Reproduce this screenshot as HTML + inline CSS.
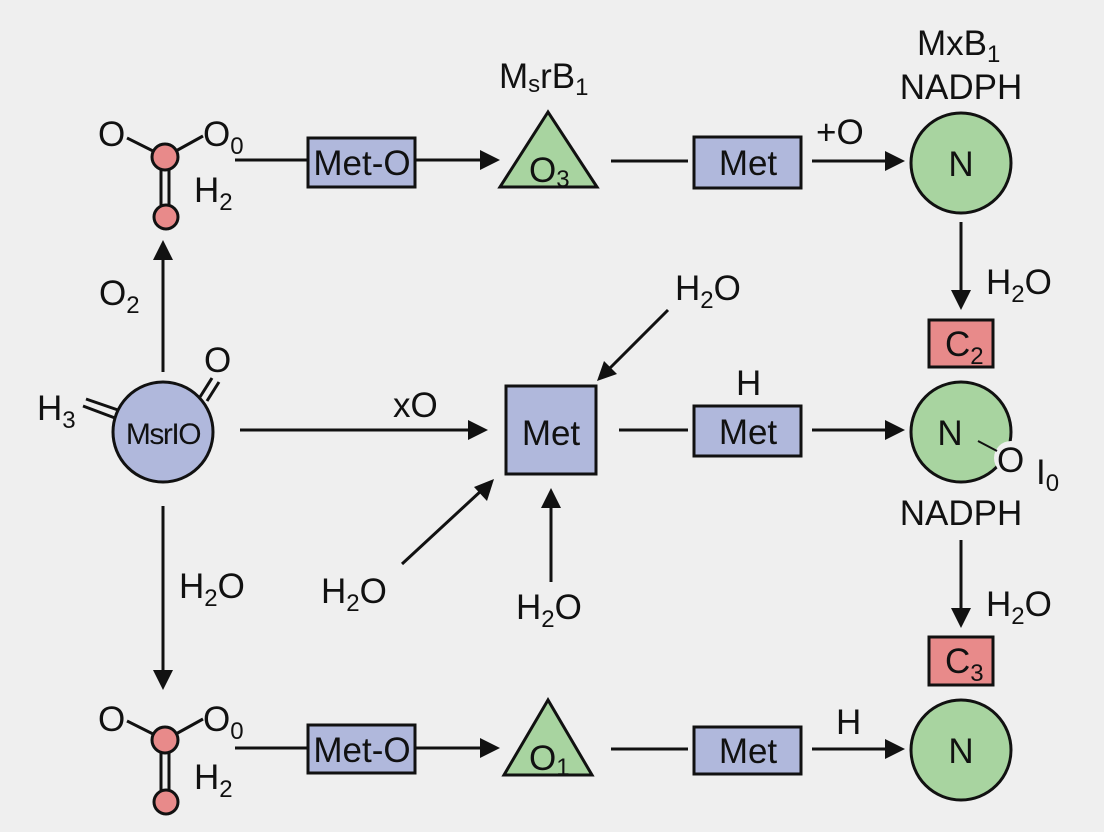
<!DOCTYPE html>
<html><head><meta charset="utf-8"><style>
html,body{margin:0;padding:0;background:#efefef;}
svg{display:block;}
text{font-family:"Liberation Sans",sans-serif;fill:#111;}
</style></head><body>
<svg width="1104" height="832" viewBox="0 0 1104 832" xmlns="http://www.w3.org/2000/svg">
<rect width="1104" height="832" fill="#efefef"/>
<g stroke="#111" stroke-width="3" fill="none">
<line x1="127" y1="138" x2="165" y2="157"/><line x1="165" y1="157" x2="203" y2="136"/>
<line x1="161" y1="168" x2="161" y2="205"/><line x1="169" y1="168" x2="169" y2="205"/>
<line x1="127" y1="721" x2="165" y2="740"/><line x1="165" y1="740" x2="203" y2="719"/>
<line x1="161" y1="751" x2="161" y2="790"/><line x1="169" y1="751" x2="169" y2="790"/>
<line x1="235" y1="160" x2="308" y2="160"/><line x1="415" y1="160" x2="482" y2="160"/>
<line x1="611" y1="161" x2="688" y2="161"/><line x1="812" y1="161" x2="888" y2="161"/>
<line x1="235" y1="748" x2="308" y2="748"/><line x1="415" y1="748" x2="482" y2="748"/>
<line x1="611" y1="749" x2="688" y2="749"/><line x1="812" y1="749" x2="888" y2="749"/>
<line x1="240" y1="430" x2="470" y2="430"/>
<line x1="619" y1="430" x2="688" y2="430"/><line x1="812" y1="430" x2="888" y2="430"/>
<line x1="668" y1="310" x2="608" y2="370"/>
<line x1="402" y1="564" x2="482" y2="490"/>
<line x1="551" y1="582" x2="551" y2="505"/>
<line x1="163" y1="372" x2="163" y2="258"/>
<line x1="163" y1="506" x2="163" y2="670"/>
<line x1="961" y1="222" x2="961" y2="292"/>
<line x1="961" y1="540" x2="961" y2="610"/>
<line x1="86" y1="399" x2="118" y2="410"/><line x1="83" y1="406" x2="115" y2="418"/>
<line x1="200" y1="397" x2="212" y2="378"/><line x1="207" y1="401" x2="219" y2="382"/>
</g>
<g fill="#111">
<polygon points="500,160 480,150 480,170"/>
<polygon points="905,161 885,151 885,171"/>
<polygon points="500,748 480,738 480,758"/>
<polygon points="905,749 885,739 885,759"/>
<polygon points="488,430 468,420 468,440"/>
<polygon points="905,430 885,420 885,440"/>
<polygon points="597,381 604,361 617,374"/>
<polygon points="494,479 474,487 487,501"/>
<polygon points="551,488 541,508 561,508"/>
<polygon points="163,240 153,260 173,260"/>
<polygon points="163,690 153,670 173,670"/>
<polygon points="961,310 951,290 971,290"/>
<polygon points="961,628 951,608 971,608"/>
</g>
<g stroke="#111" stroke-width="3">
<circle cx="165" cy="157" r="13" fill="#e88a8a"/>
<circle cx="166" cy="217" r="12" fill="#e88a8a"/>
<circle cx="165" cy="740" r="13" fill="#e88a8a"/>
<circle cx="166" cy="802" r="12" fill="#e88a8a"/>
<rect x="308" y="138" width="107" height="49" fill="#b0b8dc"/>
<rect x="308" y="725" width="107" height="48" fill="#b0b8dc"/>
<rect x="694" y="137" width="107" height="51" fill="#b0b8dc"/>
<rect x="694" y="727" width="107" height="47" fill="#b0b8dc"/>
<rect x="694" y="406" width="107" height="50" fill="#b0b8dc"/>
<rect x="506" y="386" width="90" height="88" fill="#b0b8dc"/>
<polygon points="548,112 500,187 597,187" fill="#a8d4a0"/>
<polygon points="548,700 504,775 592,775" fill="#a8d4a0"/>
<circle cx="961" cy="163" r="50" fill="#a8d4a0"/>
<circle cx="961" cy="432" r="50" fill="#a8d4a0"/>
<circle cx="961" cy="750" r="50" fill="#a8d4a0"/>
<circle cx="163" cy="432" r="50" fill="#b0b8dc"/>
<rect x="929" y="320" width="64" height="47" fill="#e88a8a"/>
<rect x="929" y="637" width="64" height="48" fill="#e88a8a"/>
</g>
<circle cx="1011" cy="458" r="17" fill="#efefef"/>
<line x1="978" y1="441" x2="997" y2="451" stroke="#111" stroke-width="2"/>
<g font-size="35">
<text x="98" y="146">O</text>
<text x="203" y="146">O<tspan font-size="24" dy="8">0</tspan></text>
<text x="194" y="202">H<tspan font-size="24" dy="8">2</tspan></text>
<text x="98" y="731">O</text>
<text x="203" y="731">O<tspan font-size="24" dy="8">0</tspan></text>
<text x="194" y="789">H<tspan font-size="24" dy="8">2</tspan></text>
<text x="362" y="175" text-anchor="middle">Met-O</text>
<text x="362" y="762" text-anchor="middle">Met-O</text>
<text x="748" y="175" text-anchor="middle">Met</text>
<text x="748" y="763" text-anchor="middle">Met</text>
<text x="748" y="444" text-anchor="middle">Met</text>
<text x="551" y="445" text-anchor="middle">Met</text>
<text x="529" y="182">O<tspan font-size="24" dy="5">3</tspan></text>
<text x="529" y="770">O<tspan font-size="24" dy="5">1</tspan></text>
<text x="499" y="88">M<tspan font-size="24" dy="4">s</tspan><tspan dy="-4">rB</tspan><tspan font-size="24" dy="7">1</tspan></text>
<text x="917" y="55">MxB<tspan font-size="24" dy="7">1</tspan></text>
<text x="961" y="99" text-anchor="middle">NADPH</text>
<text x="816" y="144">+O</text>
<text x="961" y="176" text-anchor="middle">N</text>
<text x="950" y="445" text-anchor="middle">N</text>
<text x="997" y="472">O</text>
<text x="1036" y="484">I<tspan font-size="24" dy="7">0</tspan></text>
<text x="961" y="525" text-anchor="middle">NADPH</text>
<text x="961" y="763" text-anchor="middle">N</text>
<text x="986" y="294">H<tspan font-size="24" dy="8">2</tspan><tspan dy="-8">O</tspan></text>
<text x="986" y="616">H<tspan font-size="24" dy="8">2</tspan><tspan dy="-8">O</tspan></text>
<text x="945" y="356">C<tspan font-size="24" dy="8">2</tspan></text>
<text x="945" y="673">C<tspan font-size="24" dy="8">3</tspan></text>
<text x="836" y="734">H</text>
<text x="736" y="395">H</text>
<text x="393" y="417">xO</text>
<text x="675" y="300">H<tspan font-size="24" dy="8">2</tspan><tspan dy="-8">O</tspan></text>
<text x="321" y="603">H<tspan font-size="24" dy="8">2</tspan><tspan dy="-8">O</tspan></text>
<text x="516" y="619">H<tspan font-size="24" dy="8">2</tspan><tspan dy="-8">O</tspan></text>
<text x="179" y="598">H<tspan font-size="24" dy="8">2</tspan><tspan dy="-8">O</tspan></text>
<text x="99" y="305">O<tspan font-size="24" dy="8">2</tspan></text>
<text x="37" y="420">H<tspan font-size="24" dy="8">3</tspan></text>
<text x="204" y="372">O</text>
<text x="163" y="444" text-anchor="middle" font-size="30" letter-spacing="-1.5">MsrIO</text>
</g>
</svg>
</body></html>
